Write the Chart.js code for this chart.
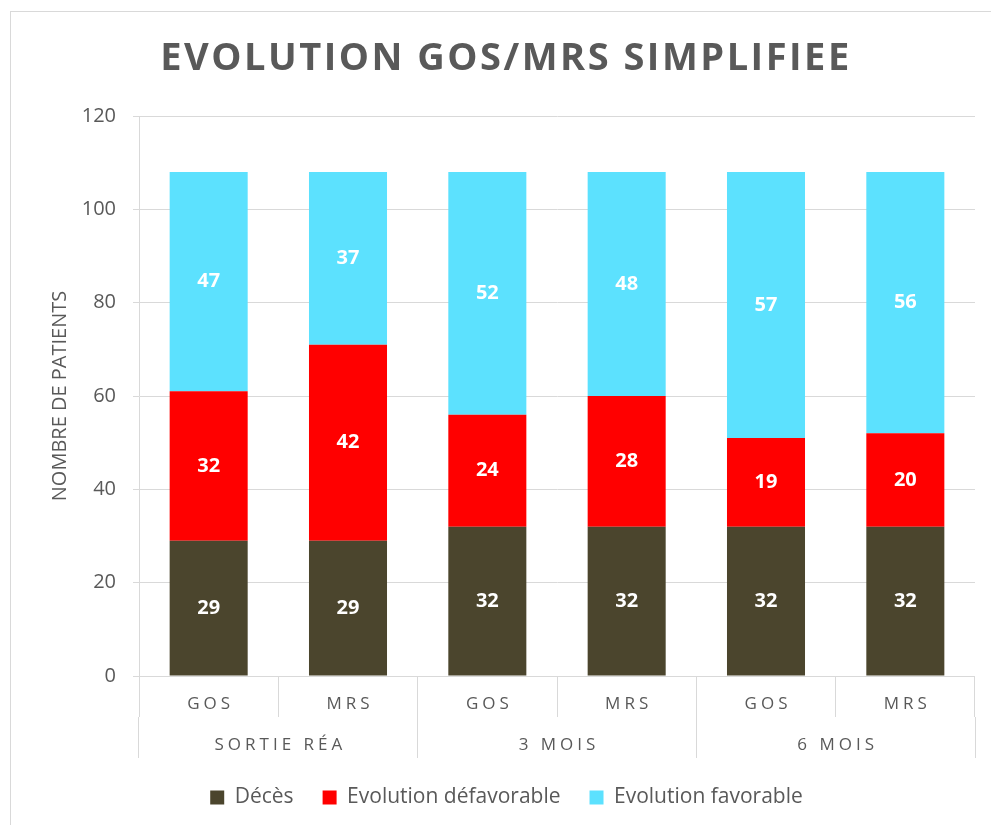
<!DOCTYPE html>
<html>
<head>
<meta charset="utf-8">
<script src="https://cdn.jsdelivr.net/npm/chart.js@4.4.0/dist/chart.umd.min.js"></script>
<style>
  html, body { margin: 0; padding: 0; width: 991px; height: 825px; overflow: hidden; background: #fff; }
  #frame { position: absolute; left: 10px; top: 11px; width: 990px; height: 840px; border: 1px solid #d9d9d9; }
  #wrap { position: absolute; left: 0; top: 0; }
</style>
</head>
<body>
<div id="frame"></div>
<div id="wrap"><canvas id="chart" width="991" height="850"></canvas></div>
<script>
// chart data
const chartTitle = 'EVOLUTION GOS/MRS SIMPLIFIEE';
const scoreLabels = ['GOS', 'MRS', 'GOS', 'MRS', 'GOS', 'MRS'];
const periodLabels = ['SORTIE RÉA', '3 MOIS', '6 MOIS'];
const deces = [29, 29, 32, 32, 32, 32];
const defavorable = [32, 42, 24, 28, 19, 20];
const favorable = [47, 37, 52, 48, 57, 56];
const yTicks = [0, 20, 40, 60, 80, 100, 120];

const textColor = '#595959';
const gridColor = '#d9d9d9';
const FONT = '"Open Sans", "DejaVu Sans", sans-serif';

// title, spaced axis labels and bar values drawn on the canvas
const extraText = {
  id: 'extraText',
  afterDatasetsDraw(chart) {
    const ctx = chart.ctx;
    ctx.save();
    ctx.fillStyle = '#ffffff';
    ctx.font = 'bold 20px ' + FONT;
    ctx.textAlign = 'center';
    ctx.textBaseline = 'middle';
    chart.data.datasets.forEach((ds, d) => {
      chart.getDatasetMeta(d).data.forEach((bar, i) => {
        ctx.fillText(String(ds.data[i]), bar.x, (bar.y + bar.base) / 2);
      });
    });
    ctx.restore();
  },
  afterDraw(chart) {
    const ctx = chart.ctx;
    ctx.save();
    ctx.fillStyle = textColor;
    ctx.textAlign = 'center';
    ctx.textBaseline = 'middle';

    ctx.font = 'bold 38px ' + FONT;
    ctx.letterSpacing = '2.5px';
    ctx.fillText(chartTitle, 506, 59);

    ctx.font = '17px ' + FONT;
    ctx.letterSpacing = '4px';
    const x = chart.scales.x;
    scoreLabels.forEach((lab, i) => {
      ctx.fillText(lab, x.getPixelForTick(i) + 2, x.top + 28);
    });
    const x2 = chart.scales.x2;
    periodLabels.forEach((lab, i) => {
      ctx.fillText(lab, x2.getPixelForTick(i) + 2, x2.top + 28);
    });
    ctx.restore();
  }
};

new Chart(document.getElementById('chart'), {
  type: 'bar',
  data: {
    labels: scoreLabels,
    datasets: [{
      label: 'Décès',
      data: deces,
      backgroundColor: '#4b452d'
    }, {
      label: 'Evolution défavorable',
      data: defavorable,
      backgroundColor: '#ff0000'
    }, {
      label: 'Evolution favorable',
      data: favorable,
      backgroundColor: '#5ce1fe'
    }]
  },
  options: {
    responsive: false,
    animation: false,
    barPercentage: 0.56,
    categoryPercentage: 1,
    layout: {
      padding: { top: 116, left: 38, right: 16, bottom: 32 }
    },
    scales: {
      x: {
        stacked: true,
        offset: true,
        weight: 0,
        grid: { offset: true, drawOnChartArea: false, tickLength: 41, color: gridColor },
        border: { display: false },
        ticks: { display: false }
      },
      x2: {
        type: 'category',
        labels: periodLabels,
        position: 'bottom',
        offset: true,
        weight: 1,
        grid: { offset: true, drawOnChartArea: false, tickLength: 41, color: gridColor },
        border: { display: false },
        ticks: { display: false }
      },
      y: {
        stacked: true,
        min: yTicks[0],
        max: yTicks[yTicks.length - 1],
        afterFit(scale) { scale.width = 101; },
        ticks: {
          stepSize: yTicks[1] - yTicks[0],
          padding: 17,
          color: textColor,
          font: { family: FONT, size: 20 }
        },
        grid: { color: gridColor, tickLength: 6 },
        border: { color: gridColor },
        title: {
          display: true,
          text: 'NOMBRE DE PATIENTS',
          color: textColor,
          font: { family: FONT, size: 20 },
          padding: { top: 10, bottom: 0 }
        }
      }
    },
    plugins: {
      title: { display: false },
      tooltip: { enabled: false },
      legend: {
        position: 'bottom',
        labels: {
          boxWidth: 14,
          boxHeight: 14,
          padding: 29,
          color: textColor,
          font: { family: FONT, size: 21 }
        }
      }
    }
  },
  plugins: [extraText]
});
</script>
</body>
</html>
